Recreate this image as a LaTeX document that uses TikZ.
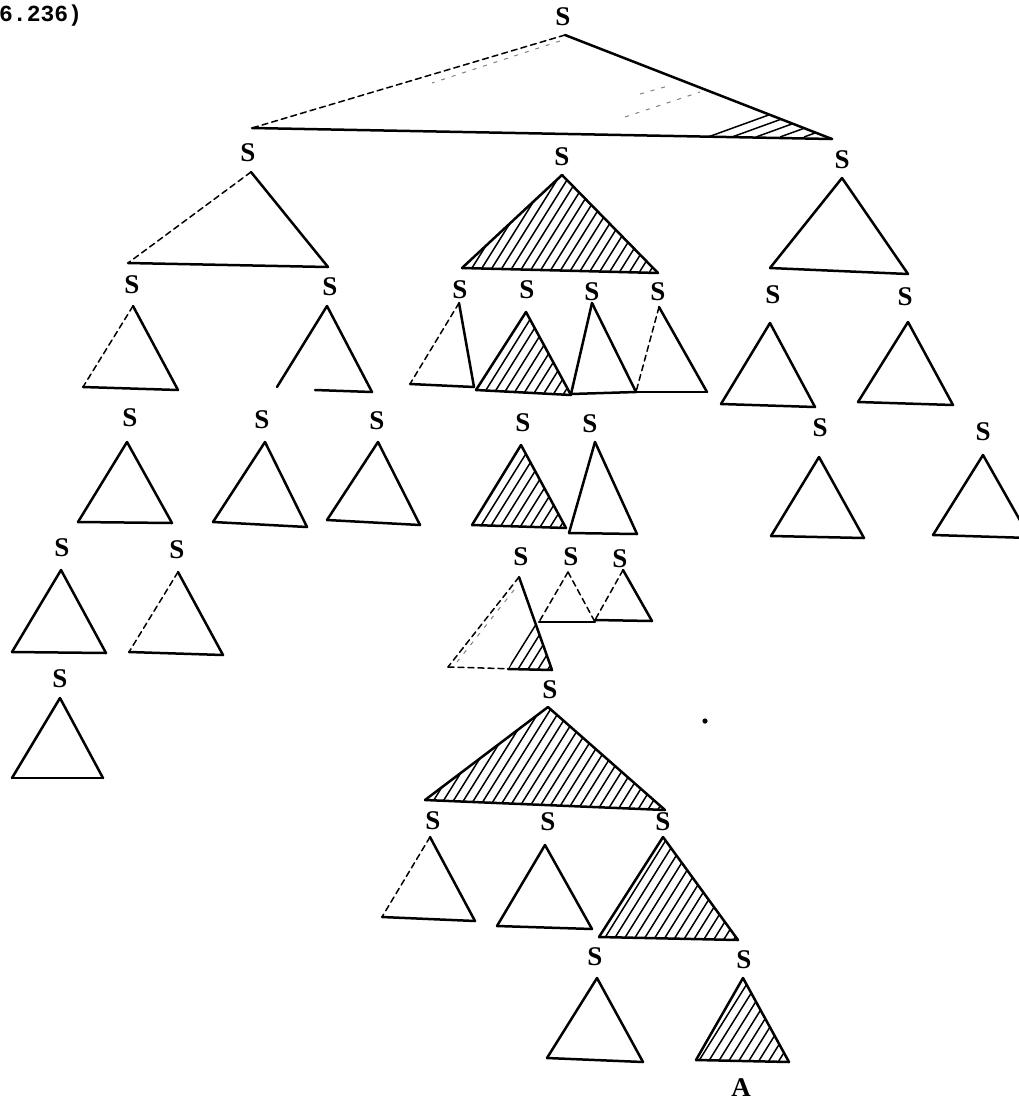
\documentclass[tikz,border=0pt]{standalone}
\usepackage{fontspec}
\newfontfamily\lblfont{Liberation Serif}
\newfontfamily\numfont{Liberation Mono}
\newcommand\trig[6]{%
  \draw[edge,#4] (#1) -- (#2);
  \draw[edge,#5] (#1) -- (#3);
  \draw[edge,#6] (#2) -- (#3);}
\newcommand\hatchtri[6]{%
  \begin{scope}
    \clip (#1) -- (#2) -- (#3) -- cycle;
    \pgfmathsetmacro\hsecond{#4+10}
    \foreach \xx in {#4,\hsecond,...,#5} {\draw[hatchline] (\xx,#6+30) -- ++(200,-320);}
  \end{scope}}
\begin{document}
\begin{tikzpicture}[x=1pt,y=-1pt,
  lbl/.style={font=\lblfont\bfseries\fontsize{27}{27}\selectfont, inner sep=0pt},
  edge/.style={line width=2.5pt, line join=round, line cap=round},
  faint/.style={line width=1.5pt, dash pattern=on 6pt off 4pt},
  ghost/.style={line width=1pt, gray, dash pattern=on 4pt off 7pt},
  hatchline/.style={line width=1.5pt}]
\useasboundingbox (0,0) rectangle (1019,1101);
\clip (0,0) rectangle (1019,1101);

\node[font=\numfont\bfseries\fontsize{23}{23}\selectfont, anchor=west, inner sep=0pt] (ref) at (-1,16) {6.236)};

% ---------- labels ----------
\node[lbl] (s0) at (563,17) {S};
\node[lbl] (s1) at (248,153) {S};
\node[lbl] (s2) at (562,157) {S};
\node[lbl] (s3) at (842,160) {S};
\node[lbl] (s11) at (132,285) {S};
\node[lbl] (s12) at (330,287) {S};
\node[lbl] (s21) at (460,290) {S};
\node[lbl] (s22) at (527,290) {S};
\node[lbl] (s23) at (592,292) {S};
\node[lbl] (s24) at (658,292) {S};
\node[lbl] (s31) at (773,295) {S};
\node[lbl] (s32) at (905,297) {S};
\node[lbl] (s111) at (130,418) {S};
\node[lbl] (s121) at (262,420) {S};
\node[lbl] (s122) at (377,421) {S};
\node[lbl] (s221) at (523,423) {S};
\node[lbl] (s222) at (590,424) {S};
\node[lbl] (s311) at (820,428) {S};
\node[lbl] (s321) at (983,432) {S};
\node[lbl] (s1111) at (62,548) {S};
\node[lbl] (s1112) at (177,550) {S};
\node[lbl] (s2211) at (521,557) {S};
\node[lbl] (s2212) at (571,557) {S};
\node[lbl] (s2213) at (620,559) {S};
\node[lbl] (s11111) at (60,679) {S};
\node[lbl] (s6) at (550,690) {S};
\node[lbl] (s7a) at (433,821) {S};
\node[lbl] (s7b) at (548,822) {S};
\node[lbl] (s7c) at (663,822) {S};
\node[lbl] (s8a) at (595,957) {S};
\node[lbl] (s8b) at (744,960) {S};
\node[lbl] (a) at (741,1088) {A};

\fill (705,721) circle (2.6pt);

% ---------- hatching ----------
% top triangle, right corner
\begin{scope}
  \clip (565,35) -- (252,128) -- (832,139) -- cycle;
  \clip (703,60) rectangle (840,145);
  \foreach \xx in {708,732,756,780,804} {\draw[hatchline] (\xx,137) -- ++(80,-29);}
\end{scope}
\hatchtri{562,175}{462,268}{658,273}{382}{662}{270}
\hatchtri{526,312}{476,390}{571,395}{406}{575}{392}
\hatchtri{521,445}{472,525}{566,528}{402}{570}{526}
\begin{scope}
  \clip (519,577) -- (448,667) -- (552,670) -- cycle;
  \clip (533,617) -- (570,617) -- (570,680) -- (503,680) -- cycle;
  \foreach \xx in {440,450,...,560} {\draw[hatchline] (\xx,698) -- ++(200,-320);}
\end{scope}
\hatchtri{548,707}{425,800}{665,810}{342}{670}{805}
\hatchtri{663,837}{599,937}{738,940}{516}{742}{938}
\hatchtri{743,978}{696,1060}{789,1062}{620}{792}{1061}

% ghost lines of the scan
\draw[ghost] (560,41) -- (432,83);
\draw[ghost] (625,117) -- (700,92);
\draw[ghost] (640,94) -- (668,86);
\draw[ghost] (514,590) -- (457,662);

% ---------- triangles ----------
\trig{565,35}{252,128}{832,139}{faint}{}{}
\trig{251,172}{128,263}{328,267}{faint}{}{}
\trig{562,175}{462,268}{658,273}{}{}{}
\trig{842,178}{770,268}{908,274}{}{}{}

\trig{133,306}{83,387}{178,390}{faint}{}{}
\trig{327,306}{277,387}{372,392}{}{}{draw=none}
\draw[edge] (315,390) -- (372,392);
\trig{127,442}{78,522}{172,523}{}{}{}
\trig{265,442}{213,522}{307,527}{}{}{}
\trig{378,442}{327,520}{420,525}{}{}{}
\trig{61,570}{12,652}{106,653}{}{}{}
\trig{178,572}{129,652}{223,655}{faint}{}{}
\trig{60,698}{12,778}{103,778}{}{}{}

\trig{459,303}{410,384}{474,387}{faint}{}{}
\trig{526,312}{476,390}{571,395}{}{}{}
\trig{592,303}{571,394}{636,392}{}{}{}
\trig{659,307}{636,392}{707,392}{faint}{}{}
\trig{521,445}{472,525}{566,528}{}{}{}
\trig{595,442}{569,533}{637,534}{}{}{}
\trig{519,577}{448,667}{552,670}{faint}{}{faint}
\draw[edge] (508,669) -- (552,670);
\trig{568,572}{539,622}{595,622}{faint}{faint}{}
\trig{623,570}{595,620}{652,621}{faint}{}{}
\trig{548,707}{425,800}{665,810}{}{}{}
\trig{430,837}{382,917}{475,921}{faint}{}{}
\trig{545,845}{497,926}{592,929}{}{}{}
\trig{663,837}{599,937}{738,940}{}{}{}
\trig{597,978}{547,1058}{643,1062}{}{}{}
\trig{743,978}{696,1060}{789,1062}{}{}{}

\trig{770,323}{721,404}{815,407}{}{}{}
\trig{908,322}{858,402}{953,405}{}{}{}
\trig{819,457}{771,536}{864,538}{}{}{}
\trig{983,455}{933,535}{1030,538}{}{}{}
\end{tikzpicture}
\end{document}
